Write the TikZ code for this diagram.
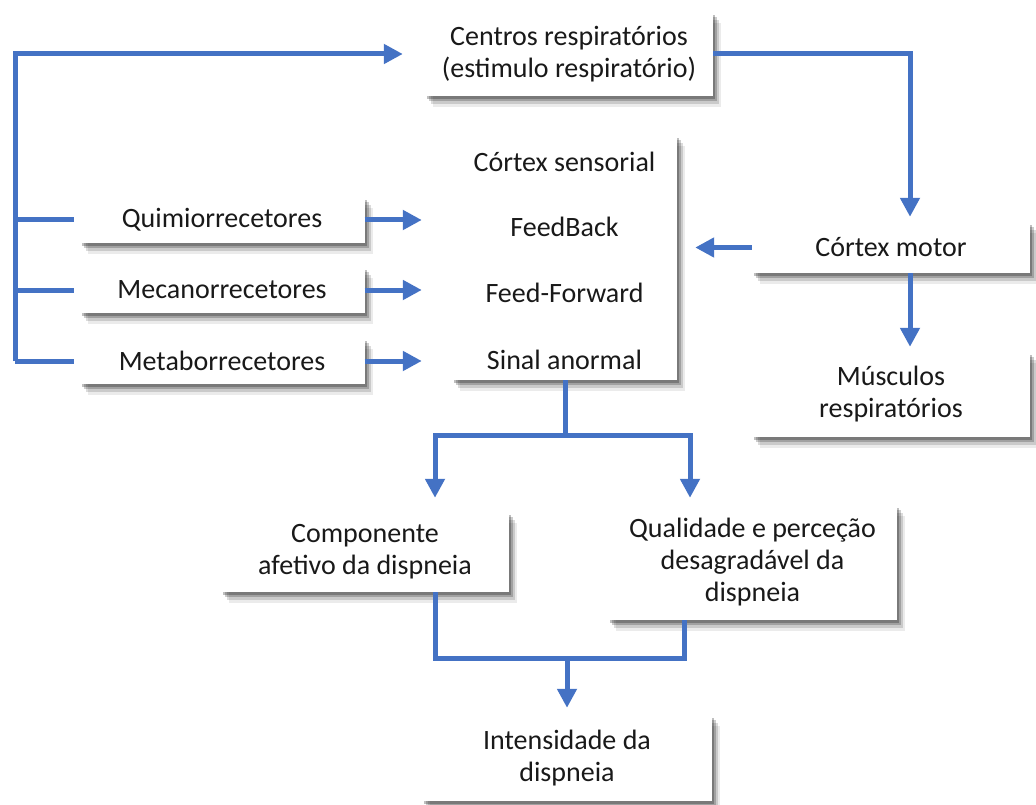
\documentclass[tikz,border=0pt]{standalone}
\usepackage{fontspec}
\setmainfont{Carlito}
\usetikzlibrary{arrows.meta,shadows,calc}
\definecolor{arrblue}{RGB}{68,114,196}
\definecolor{txt}{RGB}{25,25,25}
\begin{document}
\begin{tikzpicture}[x=1pt,y=-1pt,
  box/.style={fill=white, inner sep=0pt, align=center,
    font=\fontsize{28}{32}\selectfont, text=txt,
    drop shadow={shadow xshift=2pt,shadow yshift=-3pt,opacity=.25,fill=black},
    drop shadow={shadow xshift=4pt,shadow yshift=-5pt,opacity=.2,fill=black},
    drop shadow={shadow xshift=6pt,shadow yshift=-8pt,opacity=.14,fill=black},
    drop shadow={shadow xshift=8pt,shadow yshift=-11pt,opacity=.08,fill=black}},
  lbl/.style={inner sep=0pt, font=\fontsize{28}{32}\selectfont, text=txt},
  ln/.style={draw=arrblue, line width=5pt},
  arr/.style={ln, -{Triangle[length=19pt,width=19pt]}}]
\useasboundingbox (0,0) rectangle (1036,805);
% boxes
\node[box, minimum width=288pt, minimum height=84pt] (cen) at (569,54) {Centros respiratórios\\(estimulo respiratório)};
\node[box, minimum width=225pt, minimum height=245pt] (sens) at (564.5,257.5) {};
\node[lbl] (s1) at (564.5,162) {Córtex sensorial};
\node[lbl] (s2) at (564.5,227) {FeedBack};
\node[lbl] (s3) at (564.5,293) {Feed-Forward};
\node[lbl] (s4) at (564.5,360) {Sinal anormal};
\node[box, minimum width=285pt, minimum height=46pt] (qui) at (222,220) {Quimiorrecetores};
\node[box, minimum width=285pt, minimum height=46pt] (mec) at (222,290) {Mecanorrecetores};
\node[box, minimum width=285pt, minimum height=46pt] (met) at (222,361) {Metaborrecetores};
\node[box, minimum width=278pt, minimum height=51pt] (mot) at (891,247.5) {Córtex motor};
\node[box, minimum width=278pt, minimum height=85pt] (mus) at (891,394.5) {Músculos\\respiratórios};
\node[box, minimum width=288pt, minimum height=80pt] (com) at (365,552) {Componente\\afetivo da dispneia};
\node[box, minimum width=289pt, minimum height=115pt] (qua) at (752.5,562.5) {Qualidade e perceção\\desagradável da\\dispneia};
\node[box, minimum width=290pt, minimum height=86pt] (int) at (567,758) {Intensidade da\\dispneia};
% helper coordinates
\coordinate (bus) at (15,54);
\coordinate (rx) at (910,0);
\coordinate (split) at (565,435);
\coordinate (la) at (435,0);
\coordinate (ra) at (690,0);
\coordinate (merge) at (567,658);
% left bus
\draw[arr, shorten >=22pt] (bus |- met) -- (bus) -- (cen.west);
\draw[ln, shorten >=5pt] (bus |- qui) -- (qui.west);
\draw[ln, shorten >=5pt] (bus |- mec) -- (mec.west);
\draw[ln, shorten >=5pt] (bus |- met) -- (met.west);
% receptors to cortex
\draw[arr, shorten >=30pt] (qui.east) -- (sens.west |- qui.east);
\draw[arr, shorten >=30pt] (mec.east) -- (sens.west |- mec.east);
\draw[arr, shorten >=30pt] (met.east) -- (sens.west |- met.east);
% centros to motor
\draw[arr, shorten >=5pt] (cen.east) -- (rx |- cen.east) -- (rx |- mot.north);
\draw[arr, shorten >=18pt] (mot.west) -- (sens.east |- mot.west);
\draw[arr, shorten >=5pt] (rx |- mot.south) -- (rx |- mus.north);
% sensorial split
\draw[ln] (sens.south -| split) -- (split);
\draw[arr, shorten >=14pt] (split) -| (la |- com.north);
\draw[arr, shorten >=7pt] (split) -| (ra |- qua.north);
% merge
\draw[ln] (la |- com.south) |- (merge);
\draw[ln] (684,620) coordinate (qb) |- (merge);
\draw[arr, shorten >=7pt] (merge) -- (int.north -| merge);
\end{tikzpicture}
\end{document}
